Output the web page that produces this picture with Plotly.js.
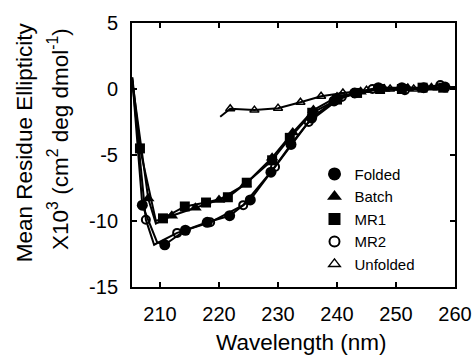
<!DOCTYPE html>
<html><head><meta charset="utf-8">
<script src="https://cdn.plot.ly/plotly-3.0.1.min.js"></script>
<style>html,body{margin:0;padding:0;background:#fff}</style>
</head><body>
<div id="chart" style="width:474px;height:357px"></div>
<script>
// Data (wavelength nm, ellipticity x10^3)
const foldedX = [205.3, 207, 209.5, 210.8, 214.3, 218, 221.8, 225.3, 228.8, 232.2, 235.7, 239.5, 243, 247, 251, 254.7, 258.3, 260];
const foldedY = [0.8, -8.8, -11.6, -11.8, -10.7, -10.1, -9.6, -8.4, -6.3, -4.2, -2.2, -0.9, -0.3, 0.1, 0.1, 0.1, 0.15, 0.1];
const foldedSkip = [0, 2, 17];

const batchX = [205.3, 208, 209.3, 212, 216, 220, 224.5, 229, 232.5, 236, 240, 244, 248, 252, 256, 260];
const batchY = [0.6, -8.3, -10.2, -9.6, -9.0, -8.4, -7.2, -5.2, -3.3, -1.6, -0.6, -0.2, 0.0, 0.05, 0.1, 0.15];
const batchSkip = [0, 2, 15];

const mr1X = [205.3, 206.6, 209.3, 210.5, 214.2, 217.8, 221.5, 224.7, 229, 232, 235.8, 240, 243.4, 247.3, 251, 254.5, 258, 260];
const mr1Y = [0.9, -4.5, -10.0, -9.8, -8.9, -8.6, -8.2, -7.1, -5.4, -3.7, -1.8, -0.8, -0.3, 0.0, 0.0, 0.1, 0.1, 0.1];
const mr1Skip = [0, 2, 17];

const mr2X = [205.3, 207.6, 209, 212.9, 218.5, 224.1, 229.5, 235.2, 240.8, 246, 251.5, 257.5, 260];
const mr2Y = [0.7, -9.9, -11.8, -10.9, -10.1, -8.8, -5.9, -2.5, -0.6, 0.0, -0.1, 0.3, 0.0];
const mr2Skip = [0, 2, 12];

const unfoldedX = [220.2, 221.9, 226, 230, 233.8, 237.3, 241, 245, 249, 253, 257, 260];
const unfoldedY = [-2.1, -1.5, -1.6, -1.45, -1.0, -0.55, -0.3, -0.1, 0.0, 0.0, 0.1, 0.1];
const unfoldedSkip = [0, 11];

const seriesNames = ["Folded", "Batch", "MR1", "MR2", "Unfolded"];
const xTicks = [210, 220, 230, 240, 250, 260];
const yTicks = [-15, -10, -5, 0, 5];

const FONT = "Liberation Sans, Arial, sans-serif";

function sizes(n, skip, s) {
  return Array.from({length: n}, (_, i) => skip.includes(i) ? 0 : s);
}
function lw(n, skip, w) {
  return Array.from({length: n}, (_, i) => skip.includes(i) ? 0 : w);
}

const styles = {
  Folded:   {symbol: "circle", size: 11, lw: 0},
  Batch:    {symbol: "triangle-up", size: 11, lw: 0},
  MR1:      {symbol: "square", size: 10, lw: 0},
  MR2:      {symbol: "circle-open", size: 8, lw: 2},
  Unfolded: {symbol: "triangle-up-open", size: 8, lw: 1.5}
};

const data = [];
const sets = [
  ["Unfolded", unfoldedX, unfoldedY, unfoldedSkip],
  ["MR2", mr2X, mr2Y, mr2Skip],
  ["Folded", foldedX, foldedY, foldedSkip],
  ["Batch", batchX, batchY, batchSkip],
  ["MR1", mr1X, mr1Y, mr1Skip]
];
sets.forEach(([name, xs, ys, skip]) => {
  const st = styles[name];
  data.push({
    type: "scatter", mode: "lines+markers", x: xs, y: ys, name: name, showlegend: false,
    line: {color: "#000", width: 2},
    marker: {symbol: st.symbol, size: sizes(xs.length, skip, st.size), color: "#000", opacity: 1,
             line: {color: "#000", width: lw(xs.length, skip, st.lw)}}
  });
});
// legend entries
seriesNames.forEach(name => {
  const st = styles[name];
  data.push({
    type: "scatter", mode: "markers", x: [null], y: [null], name: name, showlegend: true,
    marker: {symbol: st.symbol, size: st.size + 2, color: "#000", opacity: 1, line: {color: "#000", width: st.lw}}
  });
});

const layout = {
  width: 474, height: 357,
  margin: {l: 132, r: 19, t: 23, b: 70},
  paper_bgcolor: "#fff", plot_bgcolor: "#fff",
  font: {family: FONT, color: "#000"},
  showlegend: true,
  legend: {x: 0.565, y: 0.49, xanchor: "left", yanchor: "top", bgcolor: "rgba(0,0,0,0)",
           font: {family: FONT, size: 15, color: "#000"}, tracegroupgap: 0, itemwidth: 30},
  xaxis: {range: [205.25, 260], tickvals: xTicks, ticktext: xTicks.map(String), ticks: "inside", ticklen: 5, tickwidth: 2,
          tickcolor: "#000", showline: true, linecolor: "#000", linewidth: 2, mirror: "ticks", showgrid: false, zeroline: false,
          tickfont: {family: FONT, size: 20, color: "#000"}, ticklabelstandoff: 8},
  yaxis: {range: [-15, 5], tickvals: yTicks, ticktext: yTicks.map(String), ticks: "inside", ticklen: 5, tickwidth: 2,
          tickcolor: "#000", showline: true, linecolor: "#000", linewidth: 2, mirror: "ticks", showgrid: false, zeroline: false,
          tickfont: {family: FONT, size: 20, color: "#000"}, ticklabelstandoff: 8},
  annotations: [
    {text: "Mean Residue Ellipticity", xref: "paper", yref: "paper", x: -0.334, y: 0.549, xanchor: "center", yanchor: "middle",
     textangle: -90, showarrow: false, font: {family: FONT, size: 22.5, color: "#000"}},
    {text: "X10<sup>3</sup> (cm<sup>2</sup> deg dmol<sup>-1</sup>)", xref: "paper", yref: "paper", x: -0.229, y: 0.561,
     xanchor: "center", yanchor: "middle", textangle: -90, showarrow: false, font: {family: FONT, size: 22.5, color: "#000"}},
    {text: "Wavelength (nm)", xref: "paper", yref: "paper", x: 0.523, y: -0.212, xanchor: "center", yanchor: "middle",
     showarrow: false, font: {family: FONT, size: 22.5, color: "#000"}}
  ]
};

Plotly.newPlot("chart", data, layout, {displayModeBar: false, staticPlot: true});
</script>
</body></html>
